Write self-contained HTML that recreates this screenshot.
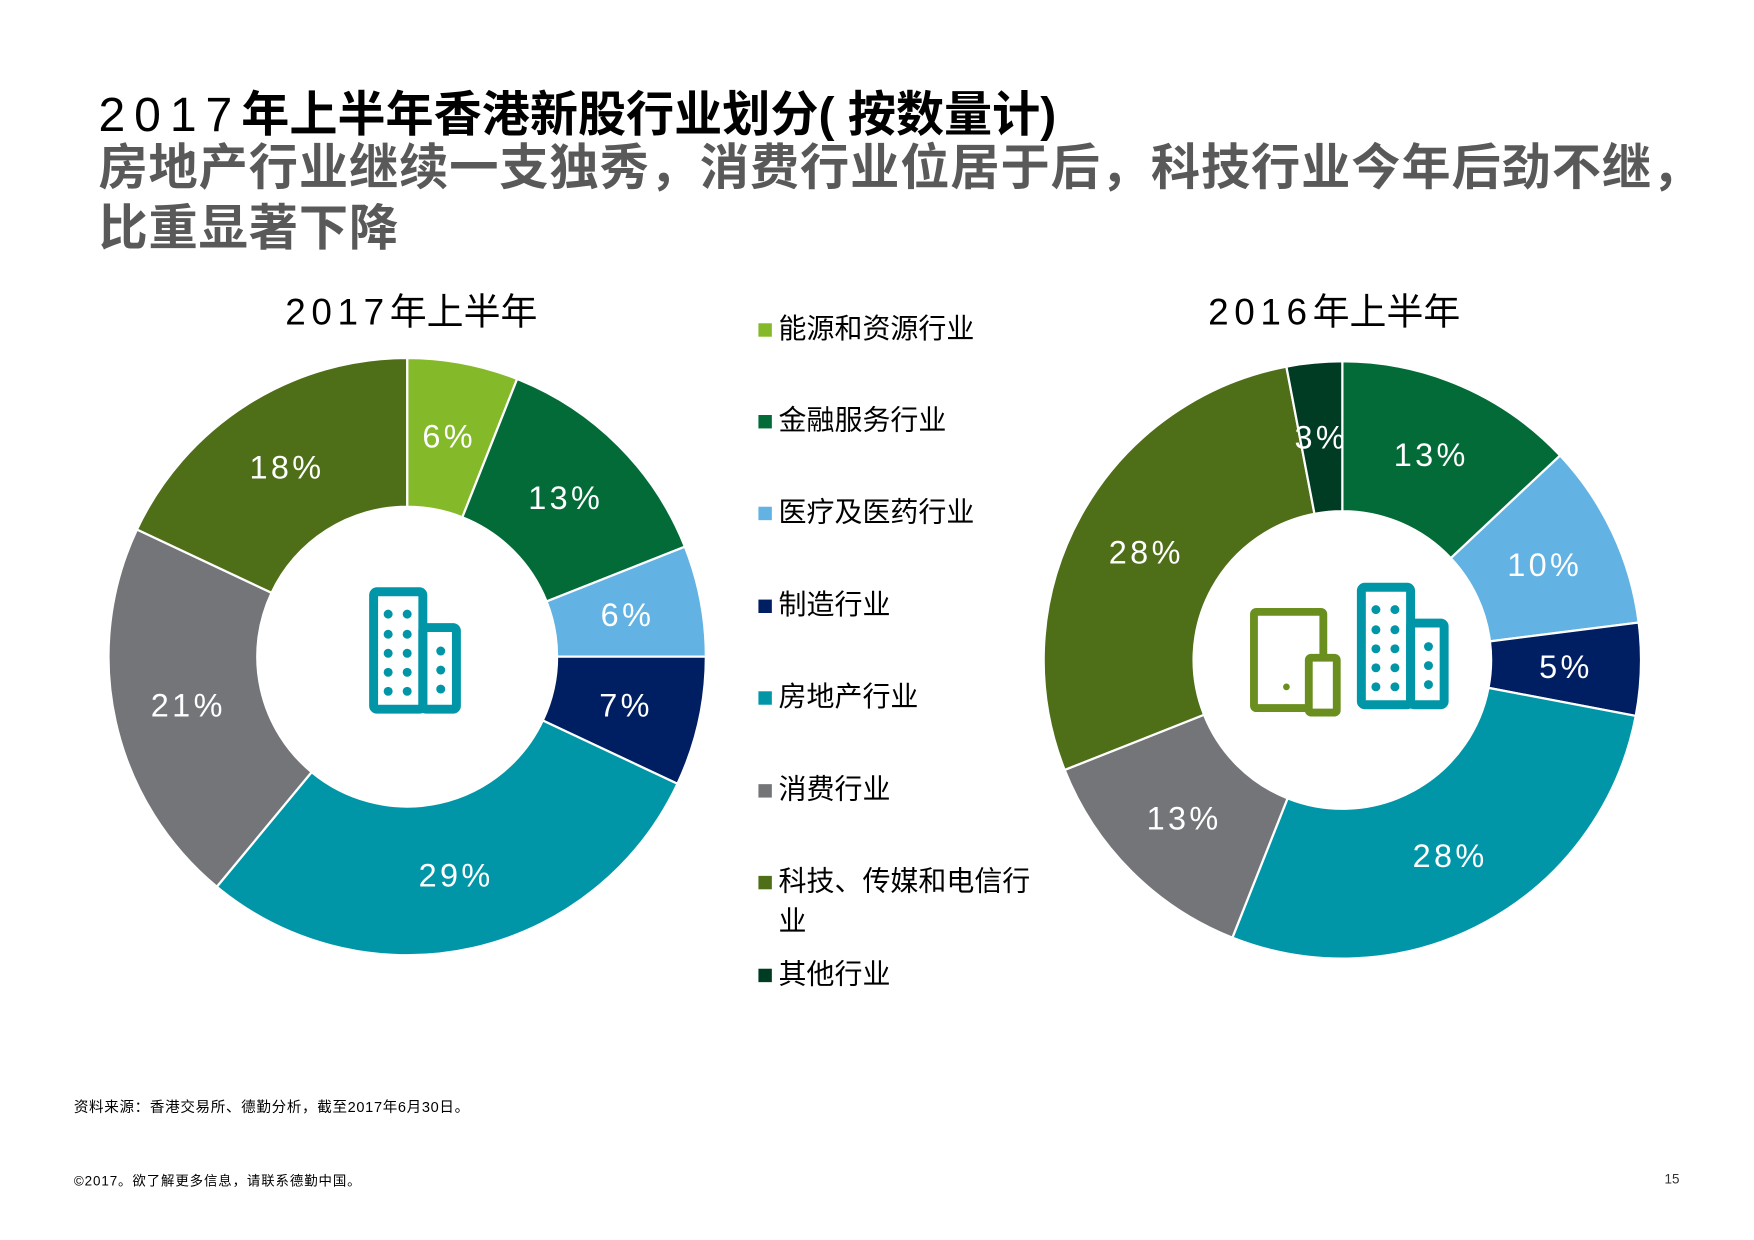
<!DOCTYPE html>
<html><head><meta charset="utf-8"><style>
html,body{margin:0;padding:0;background:#fff;width:1754px;height:1240px;overflow:hidden}
#wrap{position:absolute;left:0;top:0;width:1568px;height:1108px;transform:scale(1.11862);transform-origin:0 0;font-family:"Liberation Sans","Noto Sans CJK SC",sans-serif}
.t{position:absolute;white-space:nowrap}
</style></head><body>
<div id="wrap">
<div class="t" style="left:88px;top:68px;font-size:43px;color:#000;font-weight:bold"><span style="letter-spacing:8px;font-weight:normal">2017</span>年上半年香港新股行业划分( 按数量计)</div>
<div class="t" style="left:88px;top:124px;font-size:44px;line-height:54px;color:#595959;font-weight:bold;letter-spacing:0.8px">房地产行业继续一支独秀，消费行业位居于后，科技行业今年后劲不继，<br>比重显著下降</div>
<div class="t" style="left:255px;top:252px;font-size:33px;color:#000"><span style="letter-spacing:5px">2017</span>年上半年</div>
<div class="t" style="left:1080px;top:252px;font-size:33px;color:#000"><span style="letter-spacing:5px">2016</span>年上半年</div>
<svg id="chart" width="1568" height="1108" style="position:absolute;left:0;top:0"></svg>
<div id="legend"></div>
<div class="t" style="left:66px;top:979px;font-size:13px;color:#000;letter-spacing:0.6px">资料来源：香港交易所、德勤分析，截至2017年6月30日。</div>
<div class="t" style="left:66px;top:1047px;font-size:12px;color:#000;letter-spacing:0.8px">©2017。欲了解更多信息，请联系德勤中国。</div>
<div class="t" style="left:1488px;top:1047px;font-size:12px;color:#333">15</div>
</div>
<script>
const categories=["能源和资源行业","金融服务行业","医疗及医药行业","制造行业","房地产行业","消费行业","科技、传媒和电信行业","其他行业"];
const colors=["#84b92a","#036b37","#62b2e3","#001f62","#0096a7","#737578","#4e6e17","#003b24"];
const values2017=[6,13,6,7,29,21,18,0];
const values2016=[0,13,10,5,28,13,28,3];
const NS="http://www.w3.org/2000/svg";
const svg=document.getElementById('chart');
function mk(t,a){const e=document.createElementNS(NS,t);for(const k in a)e.setAttribute(k,a[k]);return e;}
function pt(cx,cy,r,a){return [cx+r*Math.sin(a),cy-r*Math.cos(a)];}
function donut(vals,cx,cy,ro,ri,name){
  const tot=vals.reduce((a,b)=>a+b,0);let acc=0;
  vals.forEach((v,i)=>{
    if(v<=0)return;
    const a0=acc/tot*2*Math.PI,a1=(acc+v)/tot*2*Math.PI;acc+=v;
    const lg=(a1-a0)>Math.PI?1:0;
    const p0=pt(cx,cy,ro,a0),p1=pt(cx,cy,ro,a1),q1=pt(cx,cy,ri,a1),q0=pt(cx,cy,ri,a0);
    const d=`M${p0}A${ro},${ro} 0 ${lg} 1 ${p1}L${q1}A${ri},${ri} 0 ${lg} 0 ${q0}Z`;
    const p=mk('path',{d:d,fill:colors[i],stroke:'#fff','stroke-width':2});
    
    
    svg.appendChild(p);
    const m=(a0+a1)/2,lp=pt(cx,cy,(ro+ri)/2,m);
    const t=mk('text',{x:lp[0],y:lp[1]+10,'text-anchor':'middle','font-size':29,fill:'#fff','letter-spacing':3,'font-family':'Liberation Sans, sans-serif'});
    t.textContent=v+'%';
    
    
    svg.appendChild(t);
  });
}
donut(values2017,364,587,267,134,'donut-2017');
donut(values2016,1200,590,267,133,'donut-2016');
function building(x,y,c,name){
  const g=mk('g',{transform:`translate(${x},${y})`,fill:'none',stroke:c,'stroke-width':8,'stroke-linejoin':'round'});
  
  
  g.appendChild(mk('rect',{x:4,y:4,width:44,height:105,rx:3}));
  g.appendChild(mk('rect',{x:48,y:36,width:30,height:73,rx:3}));
  const dots=[[17,22],[34,22],[17,40],[34,40],[17,57],[34,57],[17,74],[34,74],[17,91],[34,91],[64,55],[64,72],[64,89]];
  dots.forEach(d=>g.appendChild(mk('circle',{cx:d[0],cy:d[1]+2,r:4,fill:c,stroke:'none'})));
  svg.appendChild(g);
}
building(330,525,'#0096a7','building-icon-2017');
building(1213,521,'#0096a7','building-icon-2016');
const tab=mk('g',{fill:'none',stroke:'#6a8f1e','stroke-width':7,'stroke-linejoin':'round'});


tab.appendChild(mk('rect',{x:1121,y:547,width:62,height:86,rx:2}));
tab.appendChild(mk('rect',{x:1170,y:588,width:25,height:49,rx:2,fill:'#fff'}));
tab.appendChild(mk('circle',{cx:1150,cy:614,r:3,fill:'#6a8f1e',stroke:'none'}));
svg.appendChild(tab);
const lg=document.getElementById('legend');
const ly=[293,375,457,540,622,705,787,870];
categories.forEach((c,i)=>{
  const d=document.createElement('div');
  
  
  d.className='t';
  d.style.cssText=`left:678px;top:${ly[i]-17}px;font-size:25px;color:#000;line-height:36px;white-space:normal;width:260px`;
  d.innerHTML=`<span style="display:inline-block;width:12px;height:12px;background:${colors[i]};margin-right:6px;vertical-align:1px"></span>`+(i==6?'科技、传媒和电信行<br><span style="padding-left:18px">业</span>':c);
  lg.appendChild(d);
});
</script>
</body></html>
